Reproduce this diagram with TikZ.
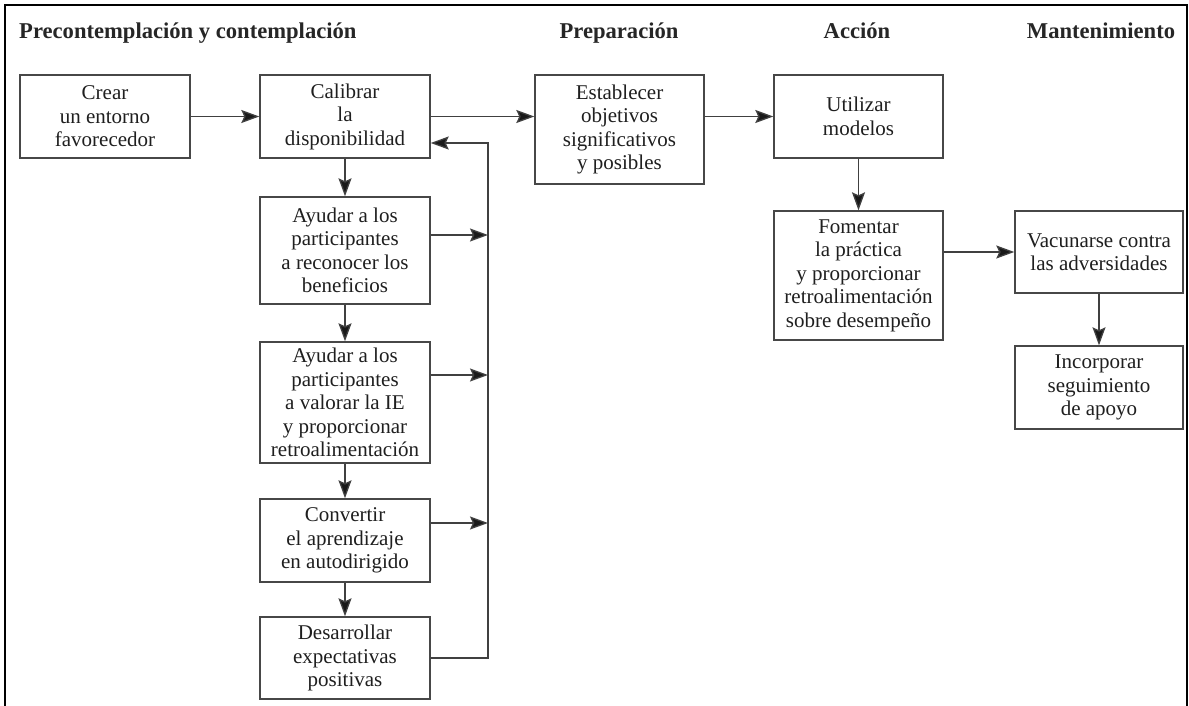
\documentclass[tikz,border=0pt]{standalone}
\usepackage{fontspec}
\setmainfont{Liberation Serif}
\usetikzlibrary{arrows.meta}
\begin{document}
\begin{tikzpicture}[x=1pt,y=-1pt,
  stagebox/.style={draw=black!72, line width=1.4pt, inner sep=0pt, align=center,
    text=black!88, font=\fontsize{21}{23.5}\selectfont},
  heading/.style={anchor=base, text=black!85, font=\fontsize{22.6}{26}\selectfont\bfseries, inner sep=0pt},
  conn/.style={draw=black!75, line width=1.3pt, -{Stealth[length=18pt,width=13pt,inset=3pt,fill=black!90]}},
  plainconn/.style={draw=black!75, line width=1.3pt}]
\useasboundingbox (0,0) rectangle (1189,706);
\fill[white] (0,0) rectangle (1189,706);
\draw[black, line width=2pt] (5,712) -- (5,5) -- (1187,5) -- (1187,712);

% headings
\node[heading, anchor=base west] (h1) at (19,39) {Precontemplación y contemplación};
\node[heading] (h2) at (619,39) {Preparación};
\node[heading] (h3) at (857,39) {Acción};
\node[heading] (h4) at (1101,39) {Mantenimiento};

% boxes
\node[stagebox, minimum width=170pt, minimum height=83pt] (crear) at (105,116.5) {Crear\\un entorno\\favorecedor};
\node[stagebox, minimum width=170pt, minimum height=83pt] (calib) at (345,116.5) {Calibrar\\la\\disponibilidad};
\node[stagebox, minimum width=169pt, minimum height=109pt] (estab) at (619.5,129.5) {Establecer\\objetivos\\significativos\\y posibles};
\node[stagebox, minimum width=169pt, minimum height=83pt] (util) at (858.5,116.5) {Utilizar\\modelos};
\node[stagebox, minimum width=170pt, minimum height=107pt] (ay1) at (345,250.5) {Ayudar a los\\participantes\\a reconocer los\\beneficios};
\node[stagebox, minimum width=170pt, minimum height=121pt] (ay2) at (345,402.5) {Ayudar a los\\participantes\\a valorar la IE\\y proporcionar\\retroalimentación};
\node[stagebox, minimum width=170pt, minimum height=83pt] (conv) at (345,540.5) {Convertir\\el aprendizaje\\en autodirigido};
\node[stagebox, minimum width=170pt, minimum height=82pt] (desa) at (345,658) {Desarrollar\\expectativas\\positivas};
\node[stagebox, minimum width=169pt, minimum height=129pt] (fom) at (858.5,275.5) {Fomentar\\la práctica\\y proporcionar\\retroalimentación\\sobre desempeño};
\node[stagebox, minimum width=168pt, minimum height=82pt] (vac) at (1099,252) {Vacunarse contra\\las adversidades};
\node[stagebox, minimum width=168pt, minimum height=83pt] (inc) at (1099,387.5) {Incorporar\\seguimiento\\de apoyo};

% feedback coordinates
\coordinate (fbtop) at (488,143);
\coordinate (fb1) at (488,235);
\coordinate (fb2) at (488,375);
\coordinate (fb3) at (488,523);

% main flow
\draw[conn] (crear.east) -- (calib.west);
\draw[conn] (calib.east) -- (estab.west |- calib.east);
\draw[conn] (estab.east |- util.west) -- (util.west);
\draw[conn] (util.south) -- (fom.north);
\draw[conn] (fom.east |- vac.west) -- (vac.west);
\draw[conn] (vac.south) -- (inc.north);

\draw[conn] (calib.south) -- (ay1.north);
\draw[conn] (ay1.south) -- (ay2.north);
\draw[conn] (ay2.south) -- (conv.north);
\draw[conn] (conv.south) -- (desa.north);

% feedback loop
\draw[conn] (ay1.east |- fb1) -- (fb1);
\draw[conn] (ay2.east |- fb2) -- (fb2);
\draw[conn] (conv.east |- fb3) -- (fb3);
\draw[conn] (desa.east) -| (fbtop) -- (calib.east |- fbtop);
\end{tikzpicture}
\end{document}
